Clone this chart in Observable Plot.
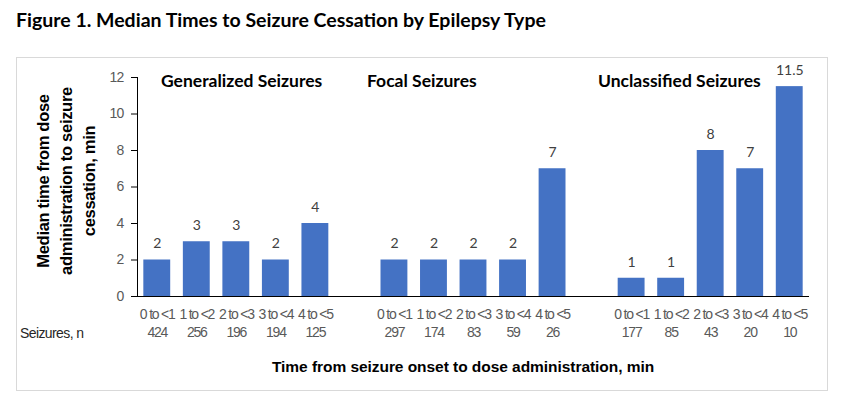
<!DOCTYPE html>
<html>
<head>
<meta charset="utf-8">
<script src="https://cdn.jsdelivr.net/npm/d3@7"></script>
<script src="https://cdn.jsdelivr.net/npm/@observablehq/plot@0.6"></script>
<style>
  html, body { margin: 0; padding: 0; background: #fff; }
  body { width: 850px; height: 412px; position: relative; overflow: hidden; }
  .abs { position: absolute; white-space: nowrap; }
  #title { left: 16px; top: 8px; font: bold 19.5px Lato, "Open Sans", sans-serif; color: #000; }
  #box { position: absolute; left: 16px; top: 57px; width: 812px; height: 334px; border: 1px solid #d9d9d9; box-sizing: border-box; }
  #chart { position: absolute; left: 0; top: 0; }
  #chart g[aria-label="x-axis tick label"] text { letter-spacing: -1.2px; }
  #chart g[aria-label="y-axis tick label"] text { letter-spacing: -0.8px; }
  .grp { font: bold 17.5px Lato, "Open Sans", sans-serif; color: #000; top: 70px; }
  .narrow { font-family: "Liberation Sans", Arial, sans-serif; }
  #ylab { left: 66px; top: 181px; transform: translate(-50%, -50%) rotate(-90deg); text-align: center; font-weight: bold; font-size: 16.5px; line-height: 23px; color: #000; letter-spacing: -0.3px; }
  #xlab { left: 463px; top: 367px; transform: translate(-50%, -50%); font-weight: bold; font-size: 15.5px; color: #000; letter-spacing: -0.05px; }
  #nlab { left: 20px; top: 333px; transform: translateY(-50%); font-size: 14px; color: #262626; letter-spacing: -0.6px; }
</style>
</head>
<body>
<div id="title" class="abs">Figure 1. Median Times to Seizure Cessation by Epilepsy Type</div>
<div id="box"><div id="chart"></div></div>
<div id="g0" class="abs grp" style="left:161px"></div>
<div id="g1" class="abs grp" style="left:367px"></div>
<div id="g2" class="abs grp" style="left:598px"></div>
<div id="ylab" class="abs narrow">Median time from dose<br>administration to seizure<br>cessation, min</div>
<div id="xlab" class="abs narrow">Time from seizure onset to dose administration, min</div>
<div id="nlab" class="abs narrow">Seizures, n</div>
<script>
// ---- data ----
const groups = ["Generalized Seizures", "Focal Seizures", "Unclassified Seizures"];
const intervals = ["0 to <1", "1 to <2", "2 to <3", "3 to <4", "4 to <5"];
const generalizedMedian = [2, 3, 3, 2, 4];
const generalizedN = [424, 256, 196, 194, 125];
const focalMedian = [2, 2, 2, 2, 7];
const focalN = [297, 174, 83, 59, 26];
const unclassifiedMedian = [1, 1, 8, 7, 11.5];
const unclassifiedN = [177, 85, 43, 20, 10];
const yTicks = [0, 2, 4, 6, 8, 10, 12];

// ---- build table ----
const medians = [generalizedMedian, focalMedian, unclassifiedMedian];
const counts = [generalizedN, focalN, unclassifiedN];
const rows = [];
const domain = [];
const labelOf = new Map();
groups.forEach((g, gi) => {
  if (gi > 0) { const gap = "gap" + gi; domain.push(gap); labelOf.set(gap, ""); }
  intervals.forEach((iv, i) => {
    const key = g + "|" + iv;
    domain.push(key);
    labelOf.set(key, iv + "\n" + counts[gi][i]);
    rows.push({key, group: g, interval: iv, value: medians[gi][i], n: counts[gi][i]});
  });
});
groups.forEach((g, gi) => { document.getElementById("g" + gi).textContent = g; });

const sans = '"Liberation Sans", Arial, sans-serif';

const chart = Plot.plot({
  width: 810,
  height: 332,
  marginLeft: 120,
  marginRight: 18,
  marginTop: 19,
  marginBottom: 94,
  style: {fontFamily: sans, background: "transparent", overflow: "visible"},
  x: {type: "band", domain, paddingInner: 0.32, paddingOuter: 0.16, round: false, axis: null, label: null},
  y: {domain: [0, 12], axis: null, label: null},
  marks: [
    Plot.barY(rows, {x: "key", y: "value", fill: "#4472C4"}),
    Plot.axisY(yTicks, {tickSize: 6, tickPadding: 8, fontSize: 14, fill: "#595959", stroke: "#000", label: null}),
    Plot.frame({anchor: "left", stroke: "#000"}),
    Plot.ruleY([0], {stroke: "#000"}),
    Plot.axisX(domain, {tickSize: 0, tickPadding: 10, fontSize: 14, lineHeight: 1.29,
      fill: "#595959", label: null, tickFormat: k => labelOf.get(k)}),
    Plot.text(rows, {x: "key", y: "value", text: d => String(d.value), dy: -16,
      fontSize: 14, fill: "#404040", fontFamily: "Lato, 'Open Sans', sans-serif"})
  ]
});
document.getElementById("chart").appendChild(chart);
</script>
</body>
</html>
